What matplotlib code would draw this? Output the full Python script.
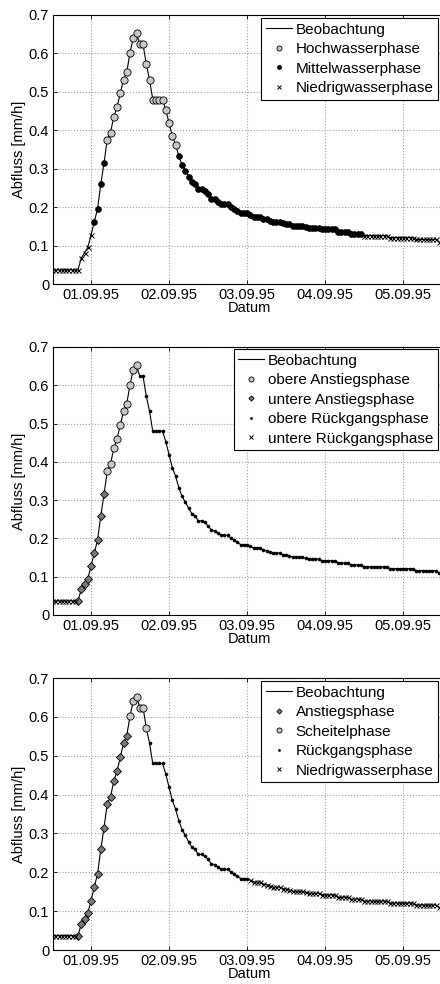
import matplotlib
matplotlib.use('Agg')
import matplotlib.pyplot as plt
import matplotlib.dates as mdates
import numpy as np
import pandas as pd

plt.rcParams['font.family'] = ['Liberation Sans', 'DejaVu Sans']
plt.rcParams['font.size'] = 10.5

# hourly discharge observation, starting 31.08.95 12:00
zeit = pd.date_range('1995-08-31 12:00', periods=120, freq='h')
abfluss = np.array([
  0.037, 0.037, 0.037, 0.037, 0.037, 0.037, 0.037, 0.037, 0.037,
  0.067, 0.081, 0.095, 0.127, 0.162, 0.195, 0.259, 0.315, 0.376, 0.394,
  0.435, 0.460, 0.496, 0.532, 0.552, 0.602, 0.641, 0.652, 0.624, 0.624,
  0.572, 0.532, 0.480, 0.480, 0.480, 0.480, 0.453, 0.419, 0.385, 0.363,
  0.333, 0.310, 0.295, 0.279, 0.265, 0.259, 0.246, 0.246, 0.242, 0.233,
  0.222, 0.220, 0.214, 0.208, 0.208, 0.208, 0.201, 0.195, 0.190, 0.184,
  0.184, 0.184, 0.180, 0.175, 0.175, 0.175, 0.170, 0.168, 0.165, 0.162,
  0.162, 0.162, 0.158, 0.157, 0.155, 0.151, 0.151, 0.151, 0.151, 0.148,
  0.146, 0.146, 0.146, 0.146, 0.142, 0.142, 0.142, 0.142, 0.142, 0.136,
  0.136, 0.136, 0.136, 0.131, 0.131, 0.131, 0.131, 0.126, 0.126, 0.126,
  0.126, 0.126, 0.126, 0.126, 0.126, 0.121, 0.121, 0.121, 0.121, 0.121,
  0.121, 0.121, 0.121, 0.116, 0.116, 0.116, 0.116, 0.116, 0.116, 0.116,
  0.110])

# phase classification as index ranges (inclusive) into the hourly series
phasen_1 = [
  ('Hochwasserphase', [(17, 38)]),
  ('Mittelwasserphase', [(13, 16), (39, 95)]),
  ('Niedrigwasserphase', [(0, 12), (96, 119)]),
]
phasen_2 = [
  ('obere Anstiegsphase', [(17, 26)]),
  ('untere Anstiegsphase', [(8, 16)]),
  ('obere Rückgangsphase', [(27, 119)]),
  ('untere Rückgangsphase', [(0, 7)]),
]
phasen_3 = [
  ('Anstiegsphase', [(8, 23)]),
  ('Scheitelphase', [(24, 29)]),
  ('Rückgangsphase', [(30, 60)]),
  ('Niedrigwasserphase', [(0, 7), (61, 119)]),
]

kreis = dict(marker='o', ms=5.2, mfc='#c8c8c8', mec='k', mew=0.6)
punkt = dict(marker='o', ms=4.2, mfc='k', mec='k', mew=0.5)
punkt_klein = dict(marker='o', ms=2.2, mfc='k', mec='k', mew=0.4)
raute = dict(marker='D', ms=3.8, mfc='#7a7a7a', mec='k', mew=0.6)
kreuz = dict(marker='x', ms=3.6, mec='k', mew=0.7)

stile = {
  'Hochwasserphase': kreis,
  'Mittelwasserphase': punkt,
  'Niedrigwasserphase': kreuz,
  'obere Anstiegsphase': kreis,
  'untere Anstiegsphase': raute,
  'obere Rückgangsphase': punkt_klein,
  'untere Rückgangsphase': kreuz,
  'Anstiegsphase': raute,
  'Scheitelphase': kreis,
  'Rückgangsphase': punkt_klein,
}

fig = plt.figure(figsize=(4.4, 9.84), dpi=100)
W, H = 440.0, 984.0

# axes boxes in pixels: (top, bottom)
boxen = [(15, 284), (347, 615), (678, 950)]
legende_oben = [18, 349, 681]
left_px, right_px = 53.3, 446.0

t0 = zeit[0]
xmin = mdates.date2num(t0 + pd.Timedelta(hours=0.4))
xmax = mdates.date2num(t0 + pd.Timedelta(hours=121.2))

for (top, bottom), phasen, leg_top in zip(boxen, [phasen_1, phasen_2, phasen_3],
                                          legende_oben):
  ax = fig.add_axes([left_px / W, 1 - bottom / H, (right_px - left_px) / W,
                     (bottom - top) / H])
  ax.plot(zeit, abfluss, '-', color='k', lw=0.8, label='Beobachtung')
  for name, bereiche in phasen:
    idx = np.concatenate([np.arange(a, b + 1) for a, b in bereiche])
    idx.sort()
    ax.plot(zeit[idx], abfluss[idx], ls='none', label=name, **stile[name])

  ax.set_xlim(xmin, xmax)
  ax.set_ylim(0, 0.7)
  ax.set_yticks(np.arange(0, 0.71, 0.1))
  ax.set_yticklabels(['0', '0.1', '0.2', '0.3', '0.4', '0.5', '0.6', '0.7'])
  ax.xaxis.set_major_locator(mdates.DayLocator())
  ax.xaxis.set_major_formatter(mdates.DateFormatter('%d.%m.%y'))
  ax.tick_params(direction='in', length=3, width=0.6, top=True, right=True,
                 labelsize=10.5, pad=3)
  ax.grid(True, ls=':', color='#a0a0a0', lw=0.8)
  for s in ax.spines.values():
    s.set_linewidth(0.8)
  ax.set_xlabel('Datum', labelpad=-1)
  ax.set_ylabel('Abfluss [mm/h]', labelpad=2)

  leg = ax.legend(loc='upper right', bbox_to_anchor=(438 / W, 1 - leg_top / H),
                  bbox_transform=fig.transFigure, borderaxespad=0,
                  fancybox=False, framealpha=1, edgecolor='k',
                  handlelength=1.7, handletextpad=0.25, labelspacing=0.36,
                  borderpad=0.3, markerscale=0.7, fontsize=11)
  leg.get_frame().set_linewidth(0.8)

fig.savefig('out.png', dpi=100)
